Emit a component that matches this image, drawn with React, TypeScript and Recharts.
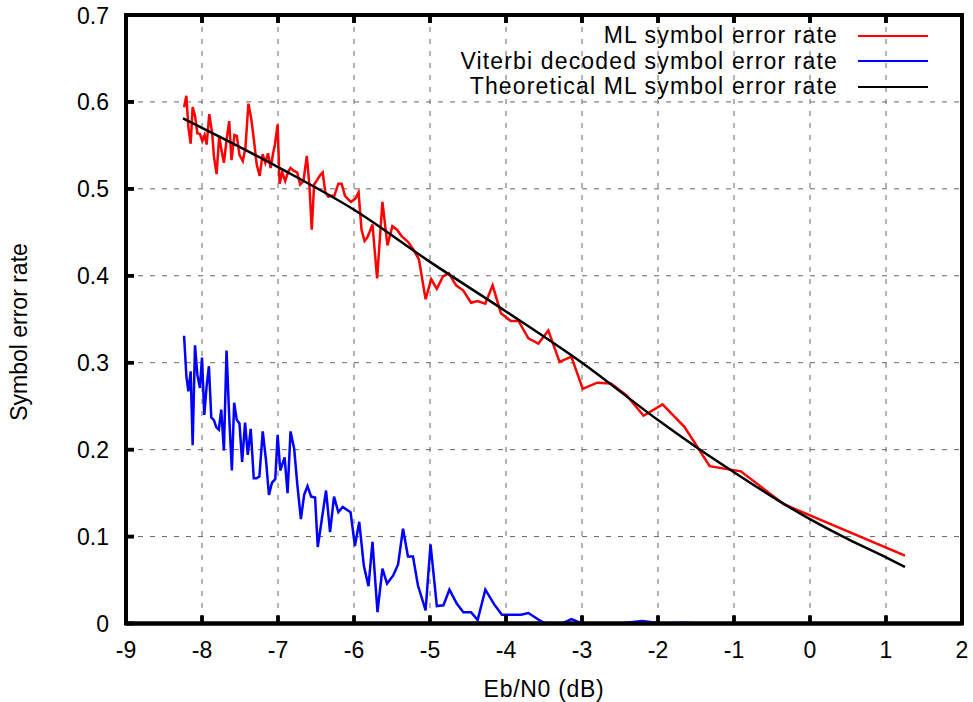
import { CartesianGrid, Legend, Line, LineChart, ReferenceArea, XAxis, YAxis } from 'recharts';

// Eb/N0 (dB) and symbol error rate
const mlSnr = [
  -8.236, -8.206, -8.179, -8.149, -8.123, -8.092, -8.061, -8.027, -7.996, -7.965, -7.939, -7.904, -7.865, -7.843,
  -7.808, -7.773, -7.743, -7.712, -7.677, -7.642, -7.612, -7.573, -7.542, -7.507, -7.463, -7.429, -7.389, -7.354,
  -7.315, -7.28, -7.241, -7.202, -7.167, -7.132, -7.097, -7.062, -7.04, -7.005, -6.979, -6.944, -6.905, -6.87,
  -6.835, -6.796, -6.748, -6.708, -6.665, -6.621, -6.586, -6.556, -6.525, -6.486, -6.451, -6.412, -6.377, -6.337,
  -6.298, -6.259, -6.206, -6.163, -6.119, -6.075, -6.04, -6.01, -5.979, -5.94, -5.901, -5.861, -5.826, -5.792,
  -5.757, -5.696, -5.626, -5.56, -5.495, -5.434, -5.377, -5.29, -5.224, -5.146, -5.102, -5.058, -4.984, -4.91,
  -4.831, -4.753, -4.657, -4.561, -4.46, -4.373, -4.273, -4.176, -4.067, -3.936, -3.836, -3.705, -3.574, -3.443,
  -3.295, -3.14, -2.99, -2.8, -2.62, -2.41, -2.19, -1.94, -1.65, -1.32, -0.91, -0.34, 1.25,
];
const mlSer = [
  0.594, 0.607, 0.571, 0.552, 0.594, 0.584, 0.564, 0.563, 0.555, 0.562, 0.551, 0.586, 0.563, 0.537,
  0.517, 0.561, 0.544, 0.53, 0.556, 0.578, 0.533, 0.562, 0.561, 0.539, 0.532, 0.547, 0.598, 0.582,
  0.555, 0.528, 0.515, 0.54, 0.53, 0.541, 0.524, 0.542, 0.551, 0.574, 0.506, 0.519, 0.509, 0.519,
  0.524, 0.521, 0.519, 0.505, 0.509, 0.538, 0.503, 0.453, 0.505, 0.51, 0.515, 0.519, 0.496, 0.491,
  0.492, 0.492, 0.506, 0.506, 0.492, 0.488, 0.485, 0.487, 0.489, 0.496, 0.453, 0.44, 0.444, 0.451,
  0.459, 0.397, 0.485, 0.435, 0.457, 0.453, 0.446, 0.439, 0.431, 0.419, 0.396, 0.373, 0.396, 0.385,
  0.399, 0.403, 0.389, 0.383, 0.369, 0.371, 0.368, 0.389, 0.357, 0.348, 0.348, 0.328, 0.322, 0.337,
  0.301, 0.307, 0.27, 0.277, 0.276, 0.262, 0.239, 0.252, 0.226, 0.181, 0.175, 0.137, 0.078,
];

const viterbiSnr = [
  -8.236, -8.205, -8.179, -8.149, -8.123, -8.092, -8.061, -8.027, -8.0, -7.97, -7.939, -7.909, -7.878, -7.843,
  -7.813, -7.778, -7.747, -7.712, -7.677, -7.642, -7.607, -7.577, -7.542, -7.507, -7.472, -7.433, -7.398, -7.359,
  -7.319, -7.284, -7.245, -7.201, -7.158, -7.119, -7.079, -7.036, -7.005, -6.97, -6.94, -6.913, -6.874, -6.835,
  -6.787, -6.747, -6.699, -6.656, -6.612, -6.564, -6.512, -6.477, -6.368, -6.315, -6.263, -6.206, -6.149, -6.045,
  -5.988, -5.931, -5.87, -5.809, -5.757, -5.691, -5.626, -5.565, -5.486, -5.42, -5.355, -5.29, -5.224, -5.159,
  -5.058, -4.993, -4.91, -4.823, -4.744, -4.648, -4.561, -4.46, -4.373, -4.272, -4.155, -4.054, -3.915, -3.805,
  -3.705, -3.565, -3.478, -3.26, -3.14, -3.0, -2.5, -2.21, -1.95, -1.65, -1.5,
];
const viterbiSer = [
  0.331, 0.284, 0.267, 0.29, 0.205, 0.32, 0.286, 0.271, 0.306, 0.24, 0.273, 0.296, 0.237, 0.234,
  0.226, 0.223, 0.246, 0.199, 0.314, 0.238, 0.176, 0.254, 0.234, 0.23, 0.186, 0.231, 0.194, 0.224,
  0.167, 0.167, 0.169, 0.221, 0.188, 0.148, 0.162, 0.166, 0.217, 0.176, 0.184, 0.191, 0.15, 0.221,
  0.201, 0.161, 0.12, 0.148, 0.158, 0.146, 0.145, 0.088, 0.153, 0.105, 0.146, 0.128, 0.134, 0.128,
  0.089, 0.117, 0.066, 0.043, 0.094, 0.013, 0.063, 0.046, 0.055, 0.068, 0.109, 0.077, 0.077, 0.044,
  0.015, 0.091, 0.02, 0.021, 0.039, 0.023, 0.013, 0.013, 0.004, 0.039, 0.022, 0.01, 0.01, 0.01,
  0.012, 0.004, 0, 0, 0.005, 0, 0, 0.003, 0, 0.001, 0,
];

const theorySnr = [-8.25, -7, -6, -5, -4, -3, -2, -1.5, -1, -0.5, 0, 0.5, 1, 1.25];
const theorySer = [0.581, 0.525, 0.476, 0.416, 0.359, 0.3, 0.234, 0.203, 0.174, 0.146, 0.12, 0.097, 0.076, 0.065];

const seriesNames = ['ML symbol error rate', 'Viterbi decoded symbol error rate', 'Theoretical ML symbol error rate'];
const seriesColors = ['#ff0000', '#0000ff', '#000000'];

const xTicks = [-9, -8, -7, -6, -5, -4, -3, -2, -1, 0, 1, 2];
const yTicks = [0, 0.1, 0.2, 0.3, 0.4, 0.5, 0.6, 0.7];
const xGrid = [-8, -7, -6, -5, -4, -3, -2, -1, 0, 1];
const yGrid = [0.1, 0.2, 0.3, 0.4, 0.5, 0.6];

const FONT = '"Liberation Sans", Arial, Helvetica, sans-serif';
const FS = 23;
const TICK = -8; // gnuplot style: ticks point into the plot
const INK = '#010101';

const toPoints = (xs: number[], ys: number[]) => xs.map((snr, i) => ({ snr, ser: ys[i] }));
const mlData = toPoints(mlSnr, mlSer);
const viterbiData = toPoints(viterbiSnr, viterbiSer);
const theoryData = toPoints(theorySnr, theorySer);

const yFmt = (v: number) => (v === 0 ? '0' : v.toFixed(1));

// tick props: x/y sit at the inner end of the (inward) tick
function BottomTick({ x, y, payload }: any) {
  return (
    <g>
      <line x1={x} y1={y} x2={x} y2={y - TICK} stroke={INK} strokeWidth={3.5} />
      <text x={x} y={y - TICK + 34.5} textAnchor="middle" fontSize={FS} fontFamily={FONT} fill="#000">
        {payload.value}
      </text>
    </g>
  );
}

function LeftTick({ x, y, payload }: any) {
  return (
    <g>
      <line x1={x} y1={y} x2={x + TICK} y2={y} stroke={INK} strokeWidth={3.5} />
      <text x={x + TICK - 17} y={y + 8.5} textAnchor="end" fontSize={FS} fontFamily={FONT} fill="#000">
        {yFmt(payload.value)}
      </text>
    </g>
  );
}

function TopTick({ x, y }: any) {
  return <line x1={x} y1={y} x2={x} y2={y + TICK} stroke={INK} strokeWidth={3.5} />;
}

function RightTick({ x, y }: any) {
  return <line x1={x} y1={y} x2={x - TICK} y2={y} stroke={INK} strokeWidth={3.5} />;
}

function LegendBox() {
  return (
    <div style={{ fontFamily: FONT, fontSize: FS, letterSpacing: 1.15, color: '#000' }}>
      {seriesNames.map((name, i) => (
        <div
          key={name}
          style={{ display: 'flex', alignItems: 'center', justifyContent: 'flex-end', height: 25.6, whiteSpace: 'nowrap' }}
        >
          <span>{name}</span>
          <span style={{ display: 'inline-block', width: 70, height: 0, borderTop: `2.5px solid ${seriesColors[i]}`, marginLeft: 20 }} />
        </div>
      ))}
    </div>
  );
}

const titleStyle = { position: 'absolute', fontFamily: FONT, fontSize: FS, color: '#000', whiteSpace: 'nowrap', lineHeight: '26px' } as const;

export default function App() {
  return (
    <div style={{ position: 'absolute', left: 0, top: 0, width: 973, height: 702, background: '#fff' }}>
      <LineChart width={973} height={702} margin={{ top: 14, right: 10, bottom: 0, left: 0 }}>
        <CartesianGrid stroke="#666" strokeDasharray="5 7" verticalValues={xGrid} horizontalValues={yGrid} />
        <Line data={mlData} dataKey="ser" name={seriesNames[0]} stroke={seriesColors[0]} strokeWidth={2.5} dot={false} isAnimationActive={false} />
        <Line data={viterbiData} dataKey="ser" name={seriesNames[1]} stroke={seriesColors[1]} strokeWidth={2.5} dot={false} isAnimationActive={false} />
        <Line data={theoryData} dataKey="ser" name={seriesNames[2]} type="monotone" stroke={seriesColors[2]} strokeWidth={2.5} dot={false} isAnimationActive={false} />
        <ReferenceArea x1={-9} x2={2} y1={0} y2={0.7} fill="none" fillOpacity={0} stroke={INK} strokeWidth={4} ifOverflow="visible" />
        <XAxis
          dataKey="snr"
          type="number"
          domain={[-9, 2]}
          ticks={xTicks}
          interval={0}
          allowDataOverflow
          height={78.5}
          stroke={INK}
          tickSize={TICK}
          tickMargin={0}
          tickLine={{ stroke: INK, strokeWidth: 3.5 }}
          tick={BottomTick}
          axisLine={{ stroke: INK, strokeWidth: 4 }}
        />
        <XAxis
          xAxisId="top"
          orientation="top"
          dataKey="snr"
          type="number"
          domain={[-9, 2]}
          ticks={xTicks}
          interval={0}
          allowDataOverflow
          height={1}
          stroke={INK}
          tickSize={TICK}
          tickMargin={0}
          tickLine={{ stroke: INK, strokeWidth: 3.5 }}
          tick={TopTick}
          axisLine={{ stroke: INK, strokeWidth: 4 }}
        />
        <YAxis
          type="number"
          domain={[0, 0.7]}
          ticks={yTicks}
          interval={0}
          width={126}
          stroke={INK}
          tickSize={TICK}
          tickMargin={0}
          tickLine={{ stroke: INK, strokeWidth: 3.5 }}
          tick={LeftTick}
          axisLine={{ stroke: INK, strokeWidth: 4 }}
        />
        <YAxis
          yAxisId="right"
          orientation="right"
          type="number"
          domain={[0, 0.7]}
          ticks={yTicks}
          interval={0}
          width={1}
          stroke={INK}
          tickSize={TICK}
          tickMargin={0}
          tickLine={{ stroke: INK, strokeWidth: 3.5 }}
          tick={RightTick}
          axisLine={{ stroke: INK, strokeWidth: 4 }}
        />
        <Legend
          layout="vertical"
          align="center"
          verticalAlign="middle"
          content={LegendBox}
          wrapperStyle={{ top: 23, right: 45, left: 'auto', bottom: 'auto', width: 'auto' }}
        />
      </LineChart>
      <div style={{ ...titleStyle, left: 544, top: 689, transform: 'translate(-50%, -50%)', letterSpacing: 0.7 }}>Eb/N0 (dB)</div>
      <div style={{ ...titleStyle, left: 19, top: 332, transform: 'translate(-50%, -50%) rotate(-90deg)' }}>Symbol error rate</div>
    </div>
  );
}
